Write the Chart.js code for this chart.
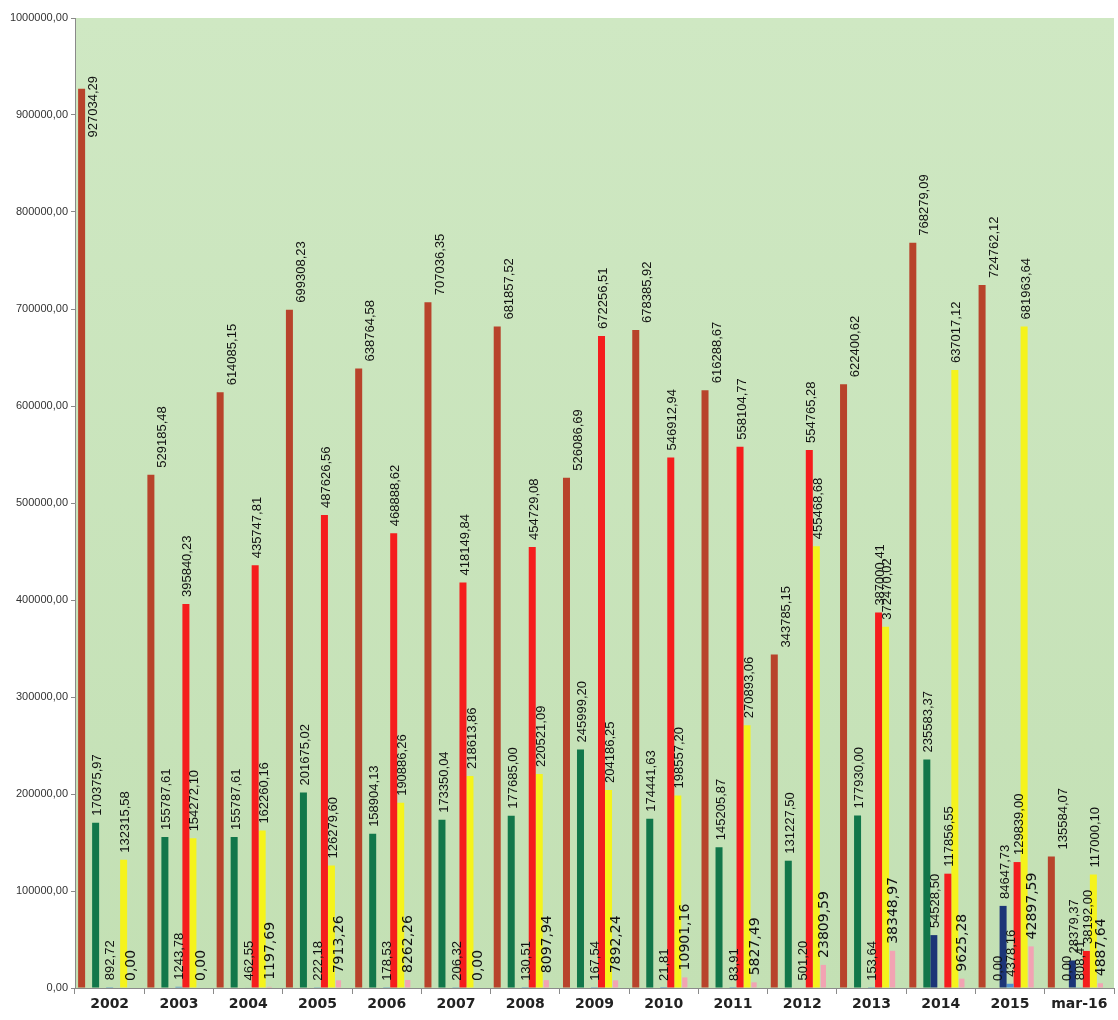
<!DOCTYPE html>
<html>
<head>
<meta charset="utf-8">
<script src="https://cdn.jsdelivr.net/npm/chart.js@4.4.1/dist/chart.umd.min.js"></script>
<style>
  body { margin: 0; background: #fff; }
  canvas { display: block; }
</style>
</head>
<body>
<canvas id="chart" width="1118" height="1020"></canvas>
<script>
var years = ['2002', '2003', '2004', '2005', '2006', '2007', '2008', '2009', '2010', '2011', '2012', '2013', '2014', '2015', 'mar-16'];

var brownValues = [927034.29, 529185.48, 614085.15, 699308.23, 638764.58, 707036.35, 681857.52, 526086.69, 678385.92, 616288.67, 343785.15, 622400.62, 768279.09, 724762.12, 135584.07];
var greenValues = [170375.97, 155787.61, 155787.61, 201675.02, 158904.13, 173350.04, 177685.00, 245999.20, 174441.63, 145205.87, 131227.50, 177930.00, 235583.37, 0.00, 0.00];
var navyValues = [null, null, null, null, null, null, null, null, null, null, null, null, 54528.50, 84647.73, 28379.37];
var lightBlueValues = [892.72, 1243.78, 462.55, 222.18, 178.53, 206.32, 130.51, 167.54, 21.81, 83.91, 501.20, 153.64, null, 4378.16, 808.41];
var redValues = [null, 395840.23, 435747.81, 487626.56, 468888.62, 418149.84, 454729.08, 672256.51, 546912.94, 558104.77, 554765.28, 387000.41, 117856.55, 129839.00, 38192.00];
var yellowValues = [132315.58, 154272.10, 162260.16, 126279.60, 190886.26, 218613.86, 220521.09, 204186.25, 198557.20, 270893.06, 455468.68, 372470.02, 637017.12, 681963.64, 117000.10];
var pinkValues = [0, 0, 1197.69, 7913.26, 8262.26, 0.00, 8097.94, 7892.24, 10901.16, 5827.49, 23809.59, 38348.97, 9625.28, 42897.59, 4887.64];
var emptyValues = years.map(function () { return null; });

var yTicks = [0, 100000, 200000, 300000, 400000, 500000, 600000, 700000, 800000, 900000, 1000000];

function fmt(v) {
    return v.toFixed(2).replace('.', ',');
}

// label settings per dataset: shift to the right, font
var bigFont = '14px "DejaVu Sans"';
var smallFont = '13px "Liberation Sans", Arial';

function ds(data, color, labelShift, font, barPct) {
    return {
        data: data,
        backgroundColor: color,
        borderWidth: 0,
        barPercentage: barPct || 1.0,
        categoryPercentage: 0.91,
        labelShift: labelShift,
        labelFont: font
    };
}

var datasets = [
    ds(brownValues, '#b8432b', 12, smallFont),
    ds(emptyValues, 'rgba(0,0,0,0)', 0, null),
    ds(greenValues, '#12774a', 2, smallFont),
    ds(navyValues, '#1c3577', 2, smallFont),
    ds(lightBlueValues, '#4f8fd0', 1, smallFont),
    ds(redValues, '#f51d1d', 2, smallFont),
    ds(yellowValues, '#f5f31c', 2, smallFont),
    ds(pinkValues, '#f2a3b3', 1, bigFont, 0.75),
    ds(emptyValues, 'rgba(0,0,0,0)', 0, null)
];

var plotBackground = {
    id: 'plotBackground',
    beforeDraw: function (chart) {
        var a = chart.chartArea, ctx = chart.ctx;
        var g = ctx.createLinearGradient(0, a.top, 0, a.bottom);
        g.addColorStop(0, '#cfe8c3');
        g.addColorStop(1, '#c3e0b4');
        ctx.save();
        ctx.fillStyle = g;
        ctx.fillRect(a.left, a.top, a.right - a.left, a.bottom - a.top);
        ctx.restore();
    }
};

var barLabels = {
    id: 'barLabels',
    afterDatasetsDraw: function (chart) {
        var ctx = chart.ctx, area = chart.chartArea;
        ctx.save();
        ctx.fillStyle = '#111';
        ctx.textAlign = 'left';
        ctx.textBaseline = 'middle';
        chart.data.datasets.forEach(function (d, i) {
            if (!d.labelFont) return;
            var meta = chart.getDatasetMeta(i);
            ctx.font = d.labelFont;
            meta.data.forEach(function (bar, j) {
                var v = d.data[j];
                if (v === null || v === undefined) return;
                var txt = fmt(v);
                var w = ctx.measureText(txt).width;
                var bottom = bar.y - 7;
                if (bottom - w < area.top + 58) bottom = area.top + 58 + w;
                ctx.save();
                ctx.translate(bar.x + d.labelShift, bottom);
                ctx.rotate(-Math.PI / 2);
                ctx.fillText(txt, 0, 0);
                ctx.restore();
            });
        });
        ctx.restore();
    }
};

new Chart(document.getElementById('chart').getContext('2d'), {
    type: 'bar',
    data: { labels: years, datasets: datasets },
    options: {
        responsive: false,
        animation: false,
        devicePixelRatio: 1,
        layout: { padding: { top: 18, right: 4, left: 0, bottom: 0 } },
        plugins: { legend: { display: false }, tooltip: { enabled: false } },
        scales: {
            x: {
                grid: { display: true, drawOnChartArea: false, tickLength: 6, color: '#8a8a8a', offset: true },
                border: { color: '#8a8a8a' },
                ticks: { color: '#222', font: { family: 'DejaVu Sans', size: 14, weight: 'bold' }, padding: 2 },
                afterFit: function (s) { s.height = 32; }
            },
            y: {
                min: 0,
                max: 1000000,
                afterBuildTicks: function (s) { s.ticks = yTicks.map(function (v) { return { value: v }; }); },
                grid: { display: true, drawOnChartArea: false, tickLength: 4, color: '#8a8a8a' },
                border: { color: '#8a8a8a' },
                ticks: {
                    color: '#333',
                    font: { family: 'Liberation Sans', size: 11 },
                    padding: 3,
                    callback: function (v) { return fmt(v); }
                },
                afterFit: function (s) { s.width = 75; }
            }
        }
    },
    plugins: [plotBackground, barLabels]
});
</script>
</body>
</html>
